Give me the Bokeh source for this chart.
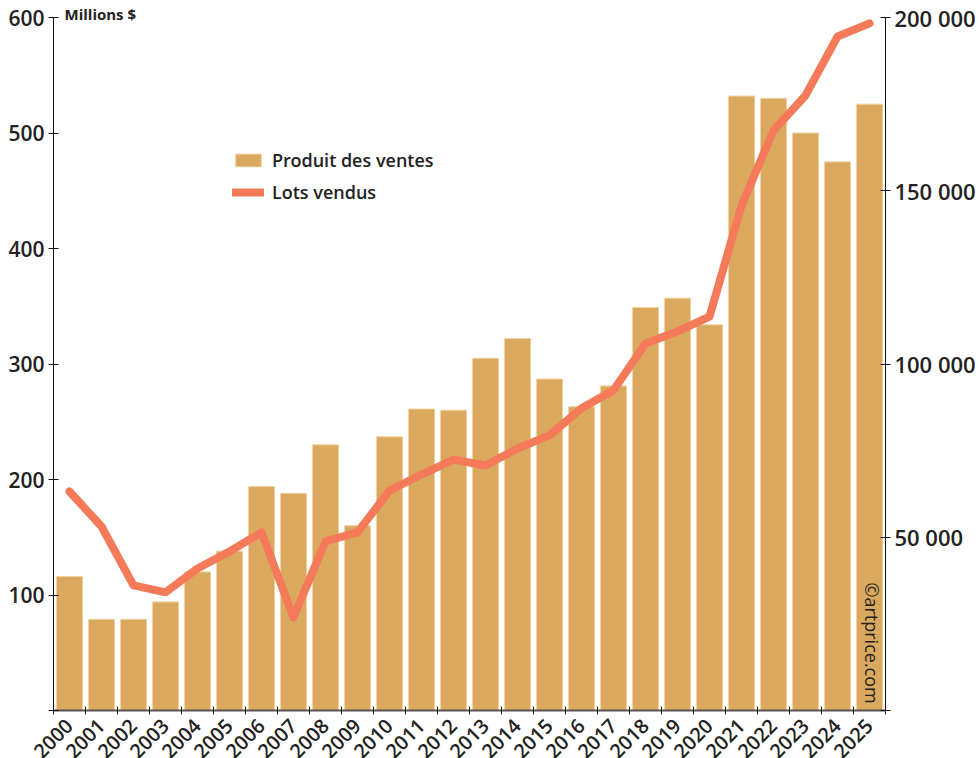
import math
from bokeh.plotting import figure
from bokeh.models import Range1d, LinearAxis, FixedTicker, Legend, LegendItem, Label, Title
from bokeh.embed import file_html
from bokeh.resources import INLINE

years = [str(y) for y in range(2000, 2026)]
produit = [116, 79, 79, 94, 120, 138, 194, 188, 230, 160, 237, 261, 260, 305, 322,
           287, 263, 281, 349, 357, 334, 532, 530, 500, 475, 525]
lots = [63200, 53100, 36100, 34100, 41000, 45900, 51400, 26900, 48800, 51400, 63500,
        68100, 72400, 70700, 75600, 79400, 87200, 92400, 105900, 109400, 113700,
        145700, 167400, 177500, 194500, 198300]
left_ticks = [0, 100, 200, 300, 400, 500, 600]
right_ticks = [0, 50000, 100000, 150000, 200000]

BAR = "#DBA95E"
LINE = "#F47A5A"
FONT = "Open Sans"
SEMI = "Open Sans SemiBold"
SEMI_STYLE = "normal"

xs = list(range(len(years)))

p = figure(frame_width=832, frame_height=693, output_backend="svg", toolbar_location=None,
           x_range=Range1d(-0.5, len(years) - 0.5), y_range=Range1d(0, 600),
           min_border_left=53, min_border_right=10, min_border_top=17, min_border_bottom=10)
p.extra_y_ranges = {"lots": Range1d(0, 200000)}
p.outline_line_color = None
p.xgrid.visible = False
p.ygrid.visible = False
p.background_fill_color = "white"

bars = p.vbar(x=xs, top=produit, width=0.82, fill_color=BAR, line_color="#EFD3A2", line_width=1)
ln = p.line(x=xs, y=lots, y_range_name="lots", line_color=LINE, line_width=8,
            line_cap="round", line_join="round")

# x axis
xa = p.xaxis[0]
xa.ticker = FixedTicker(ticks=xs, minor_ticks=[i - 0.5 for i in range(len(years) + 1)])
xa.major_label_overrides = {i: y for i, y in enumerate(years)}
xa.major_tick_line_color = None
xa.major_tick_out = 0
xa.major_tick_in = 0
xa.minor_tick_in = 4
xa.minor_tick_out = 4
xa.minor_tick_line_color = "#222222"
xa.axis_line_color = "#555555"
xa.axis_line_width = 2
xa.major_label_orientation = math.pi / 4
xa.major_label_text_font = SEMI
xa.major_label_text_font_style = SEMI_STYLE
xa.major_label_text_font_size = "20px"
xa.major_label_text_color = "#222222"
xa.major_label_standoff = 8

# left axis
ya = p.yaxis[0]
ya.ticker = FixedTicker(ticks=left_ticks, minor_ticks=[])
ya.major_label_overrides = {0: ""}
ya.major_tick_in = 5
ya.major_tick_out = 5
ya.axis_line_color = "#111111"
ya.major_tick_line_color = "#111111"
ya.major_label_text_font = SEMI
ya.major_label_text_font_style = SEMI_STYLE
ya.major_label_text_font_size = "21px"
ya.major_label_text_color = "#222222"
ya.major_label_standoff = 4

# right axis
ra = LinearAxis(y_range_name="lots")
ra.ticker = FixedTicker(ticks=right_ticks, minor_ticks=[])
ra.major_label_overrides = {t: ("" if t == 0 else f"{t:,}".replace(",", " ")) for t in right_ticks}
ra.major_tick_in = 5
ra.major_tick_out = 5
ra.axis_line_color = "#111111"
ra.major_tick_line_color = "#111111"
ra.major_label_text_font = SEMI
ra.major_label_text_font_style = SEMI_STYLE
ra.major_label_text_font_size = "22px"
ra.major_label_text_color = "#222222"
ra.major_label_standoff = 4
p.add_layout(ra, "right")

legend = Legend(items=[LegendItem(label="Produit des ventes", renderers=[bars]),
                       LegendItem(label="Lots vendus", renderers=[ln])],
                location=(179, 506), orientation="vertical",
                glyph_width=32, glyph_height=16, label_height=24, spacing=8,
                label_standoff=8, padding=0, margin=0,
                border_line_color=None, background_fill_alpha=0,
                label_text_font=SEMI, label_text_font_style=SEMI_STYLE,
                label_text_font_size="18px", label_text_color="#222222")
p.add_layout(legend)

p.add_layout(Title(text="Millions $", align="left", offset=11, standoff=-13,
                   text_font=FONT, text_font_style="bold", text_font_size="15px",
                   text_color="#222222"), "above")
p.add_layout(Label(x=818, y=128, x_units="screen", y_units="screen", text="©artprice.com",
                   angle=-math.pi / 2, text_font=FONT, text_font_size="18px",
                   text_color="#222222", text_baseline="middle", text_align="left"))

open("out.html", "w").write(file_html(p, INLINE))
